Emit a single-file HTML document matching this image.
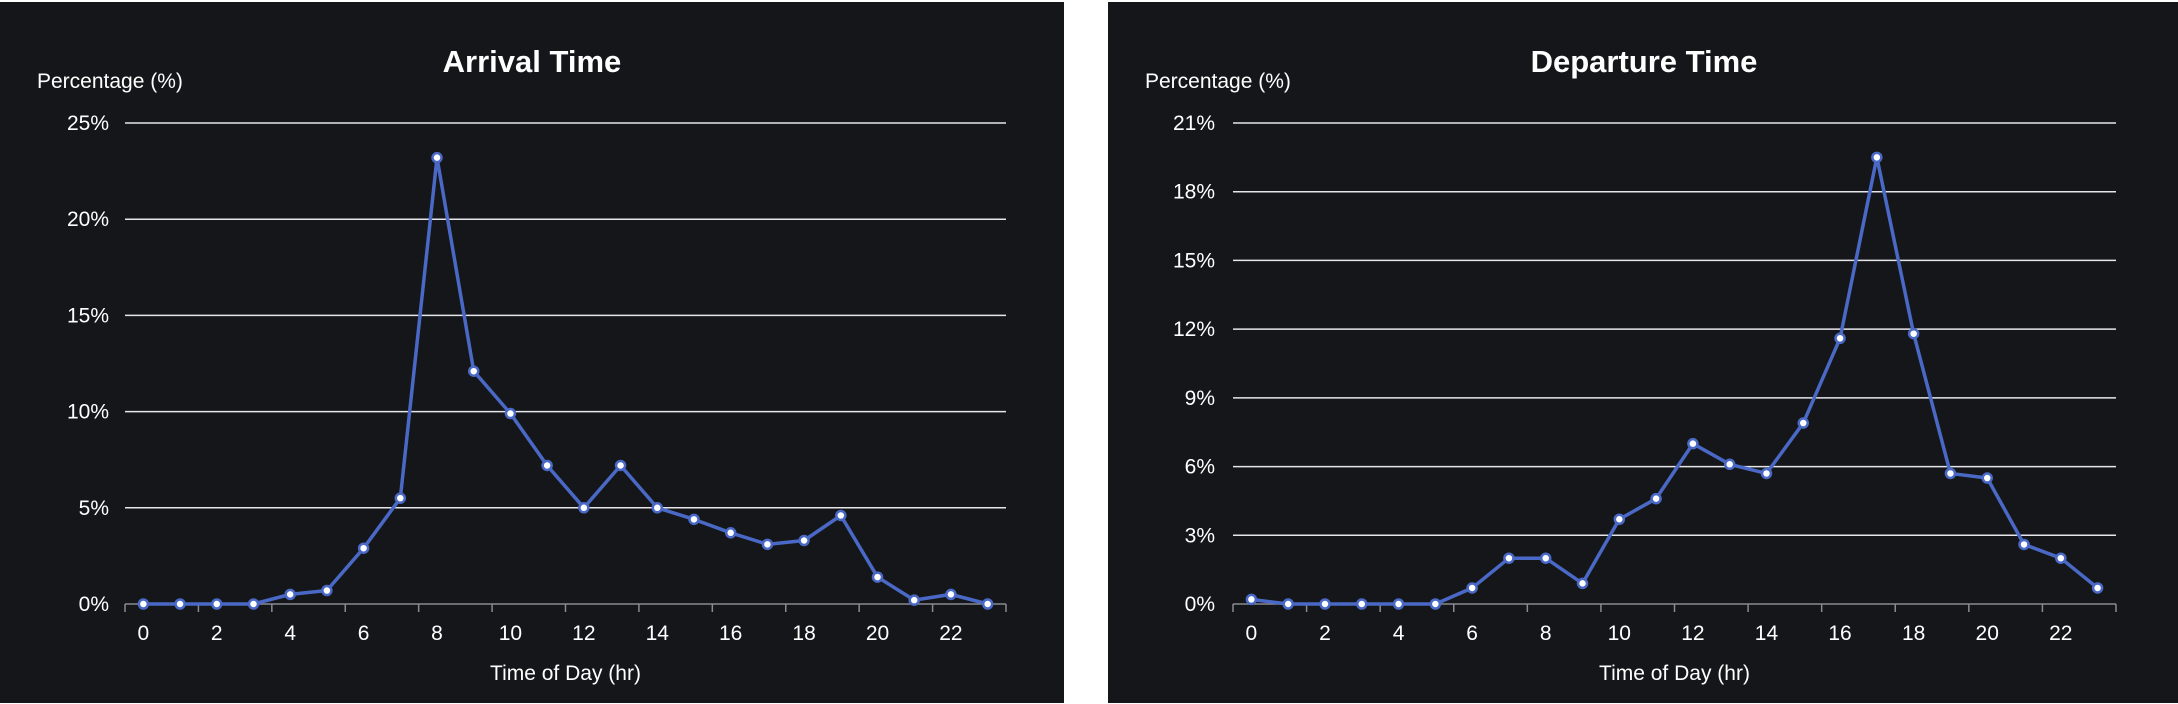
<!DOCTYPE html>
<html><head><meta charset="utf-8"><style>
html,body{margin:0;padding:0;background:#fff;width:2178px;height:704px;overflow:hidden}
svg{display:block;font-family:"Liberation Sans",sans-serif}
</style></head><body>
<svg id="svg" width="2178" height="704">
<rect x="0" y="2" width="1064" height="701" fill="#151619"/>
<rect x="1108" y="2" width="1070" height="701" fill="#151619"/>
</svg>
<script>
const hours = [0,1,2,3,4,5,6,7,8,9,10,11,12,13,14,15,16,17,18,19,20,21,22,23];
const xTicks = [0,2,4,6,8,10,12,14,16,18,20,22];
const arrivalValues = [0,0,0,0,0.5,0.7,2.9,5.5,23.2,12.1,9.9,7.2,5.0,7.2,5.0,4.4,3.7,3.1,3.3,4.6,1.4,0.2,0.5,0.0];
const arrivalTicks = [0,5,10,15,20,25];
const departureValues = [0.2,0,0,0,0,0,0.7,2.0,2.0,0.9,3.7,4.6,7.0,6.1,5.7,7.9,11.6,19.5,11.8,5.7,5.5,2.6,2.0,0.7];
const departureTicks = [0,3,6,9,12,15,18,21];

const NS='http://www.w3.org/2000/svg';
const svg=document.getElementById('svg');
function mk(tag,attrs,parent){const e=document.createElementNS(NS,tag);for(const k in attrs)e.setAttribute(k,attrs[k]);(parent||svg).appendChild(e);return e;}

function chart(cfg){
  const g=mk('g',{});
  
  
  const x0=cfg.x0,x1=cfg.x1,yTop=123,yBot=604;
  const n=hours.length, band=(x1-x0)/n;
  const ymax=cfg.ticks[cfg.ticks.length-1];
  const xs=i=>x0+band*(i+0.5);
  const ys=v=>yBot-(v/ymax)*(yBot-yTop);
  const t=mk('text',{x:cfg.titleX,y:72,'text-anchor':'middle',fill:'#fff','font-size':31,'font-weight':'bold'},g);
  t.textContent=cfg.title;
  
  
  const yl=mk('text',{x:cfg.ylabX,y:88,fill:'#fff','font-size':21},g);
  yl.textContent='Percentage (%)';
  
  
  cfg.ticks.forEach(v=>{
    if(v>0){const l=mk('line',{x1:x0,x2:x1,y1:ys(v),y2:ys(v),stroke:'#e6e6ea','stroke-width':1.5},g);
      
      }
    const tl=mk('text',{x:cfg.ylabR,y:ys(v)+7,'text-anchor':'end',fill:'#fff','font-size':21},g);
    tl.textContent=v+'%';
    
    
  });
  const ax=mk('line',{x1:x0,x2:x1,y1:yBot,y2:yBot,stroke:'#8a8a90','stroke-width':1.5},g);
  
  
  for(let i=0;i<=n;i+=2){mk('line',{x1:x0+band*i,x2:x0+band*i,y1:yBot,y2:yBot+8,stroke:'#8a8a90','stroke-width':1.5},g);}
  xTicks.forEach(h=>{
    const tl=mk('text',{x:xs(h),y:640,'text-anchor':'middle',fill:'#fff','font-size':21},g);
    tl.textContent=h;
    
    
  });
  const xt=mk('text',{x:(x0+x1)/2,y:680,'text-anchor':'middle',fill:'#fff','font-size':21},g);
  xt.textContent='Time of Day (hr)';
  
  
  const pts=cfg.values.map((v,i)=>xs(i)+','+ys(v)).join(' ');
  const pl=mk('polyline',{points:pts,fill:'none',stroke:'#4a69c6','stroke-width':3.5,'stroke-linejoin':'round'},g);
  
  
  cfg.values.forEach((v,i)=>{
    const c=mk('circle',{cx:xs(i),cy:ys(v),r:4.5,fill:'#fff',stroke:'#4a69c6','stroke-width':2.5},g);
    
    
  });
}
chart({name:'arrival',title:'Arrival Time',values:arrivalValues,ticks:arrivalTicks,x0:125,x1:1006,titleX:532,ylabX:37,ylabR:109});
chart({name:'departure',title:'Departure Time',values:departureValues,ticks:departureTicks,x0:1233,x1:2116,titleX:1644,ylabX:1145,ylabR:1215});
</script>
</body></html>
